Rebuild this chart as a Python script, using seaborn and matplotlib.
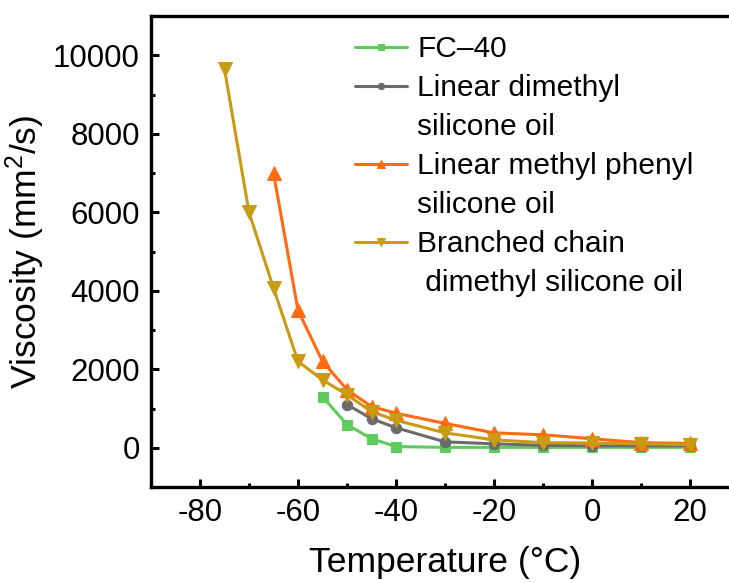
import matplotlib
matplotlib.use("Agg")
import matplotlib.pyplot as plt
import seaborn as sns
import pandas as pd
from matplotlib.ticker import MultipleLocator
from matplotlib.lines import Line2D

# ---- data ----
fc40_T = [-55, -50, -45, -40, -30, -20, -10, 0, 10, 20]
fc40_V = [1300, 590, 230, 30, 10, 10, 10, 10, 10, 10]

lin_dm_T = [-50, -45, -40, -30, -20, -10, 0, 10, 20]
lin_dm_V = [1100, 740, 510, 150, 100, 60, 50, 50, 50]

lin_mp_T = [-65, -60, -55, -50, -45, -40, -30, -20, -10, 0, 10, 20]
lin_mp_V = [7000, 3500, 2200, 1480, 1050, 880, 620, 380, 330, 230, 130, 110]

br_T = [-75, -70, -65, -60, -55, -50, -45, -40, -30, -20, -10, 0, 10, 20]
br_V = [9650, 6000, 4070, 2200, 1730, 1350, 920, 700, 380, 200, 130, 120, 100, 80]

labels = ["FC\u201340", "Linear dimethyl\nsilicone oil",
          "Linear methyl phenyl\nsilicone oil", "Branched chain\n dimethyl silicone oil"]
x_ticks = [-80, -60, -40, -20, 0, 20]
y_ticks = [0, 2000, 4000, 6000, 8000, 10000]

# ---- style ----
sns.set_style("ticks")
plt.rcParams["font.family"] = ["Liberation Sans", "DejaVu Sans"]
plt.rcParams["mathtext.fontset"] = "custom"
plt.rcParams["mathtext.rm"] = "Liberation Sans"
plt.rcParams["mathtext.it"] = "Liberation Sans:italic"
plt.rcParams["axes.unicode_minus"] = False
plt.rcParams["text.color"] = "black"
plt.rcParams["axes.labelcolor"] = "black"
plt.rcParams["xtick.color"] = "black"
plt.rcParams["ytick.color"] = "black"

fig = plt.figure(figsize=(7.29, 5.83), dpi=100)
ax = fig.add_axes([151 / 729, (583 - 487) / 583, 588 / 729, (487 - 16) / 583])

series = [
    (fc40_T, fc40_V, labels[0], "#5DCB5D", "s", 7.5),
    (lin_dm_T, lin_dm_V, labels[1], "#6B6B6B", "o", 7.5),
    (lin_mp_T, lin_mp_V, labels[2], "#FF6A12", "^", 9.5),
    (br_T, br_V, labels[3], "#C99A12", "v", 9.5),
]
for T, V, lab, col, mk, ms in series:
    df = pd.DataFrame({"T": T, "V": V})
    sns.lineplot(data=df, x="T", y="V", ax=ax, color=col, marker=mk,
                 markersize=ms, markeredgecolor=col, linewidth=2.2,
                 label=lab)

ax.set_xlim(-90, 30)
ax.set_ylim(-1000, 11000)
ax.set_xticks(x_ticks)
ax.set_yticks(y_ticks)
ax.xaxis.set_minor_locator(MultipleLocator(10))
ax.yaxis.set_minor_locator(MultipleLocator(1000))
ax.tick_params(which="major", direction="in", length=6, width=2.2,
               labelsize=22.5, pad=8)
ax.tick_params(which="minor", direction="in", length=3, width=2.2)
for s in ax.spines.values():
    s.set_linewidth(2.4)
    s.set_color("black")

ax.set_xlabel("Temperature (\u00b0C)", fontsize=25.5, labelpad=13)
ax.set_ylabel("Viscosity (mm$^2$/s)", fontsize=25.5, labelpad=4)

# legend: handle aligned with the first line of each label
handles, labs = ax.get_legend_handles_labels()
blank = Line2D([], [], color="none", marker=None, linestyle="none")
leg_h, leg_l = [], []
for h, l in zip(handles, labs):
    parts = l.split("\n")
    leg_h.append(h)
    leg_l.append(parts[0])
    for p in parts[1:]:
        leg_h.append(blank)
        leg_l.append(p)
ax.legend(leg_h, leg_l, loc="upper left", bbox_to_anchor=(0.326, 0.985),
          frameon=False, fontsize=21.5, handlelength=1.75, handletextpad=0.35,
          labelspacing=0.37, markerscale=0.6, borderaxespad=0)

fig.savefig("out.png", dpi=100)
